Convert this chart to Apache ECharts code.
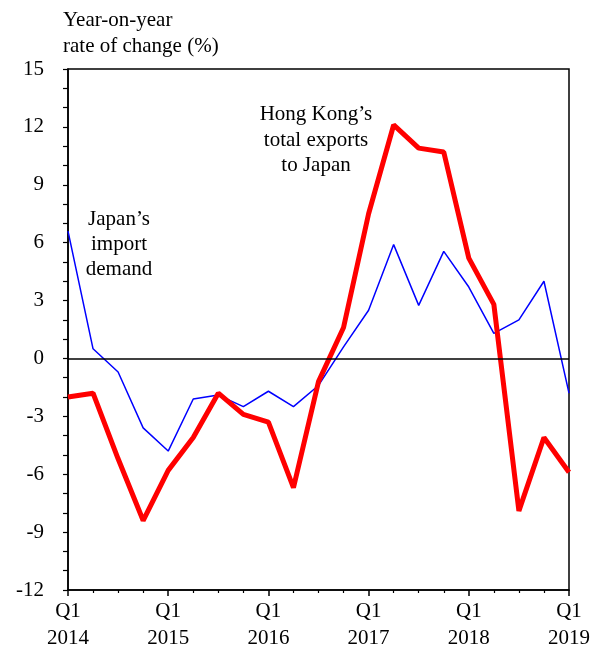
<!DOCTYPE html>
<html>
<head>
<meta charset="utf-8">
<script src="https://cdn.jsdelivr.net/npm/echarts@6/dist/echarts.min.js"></script>
<style>
  html, body { margin: 0; padding: 0; background: #fff; }
  #chart { width: 598px; height: 654px; }
</style>
</head>
<body>
<div id="chart"></div>
<script>
// quarters from Q1 2014 to Q1 2019
var quarters = ['2014Q1','2014Q2','2014Q3','2014Q4','2015Q1','2015Q2','2015Q3','2015Q4',
  '2016Q1','2016Q2','2016Q3','2016Q4','2017Q1','2017Q2','2017Q3','2017Q4',
  '2018Q1','2018Q2','2018Q3','2018Q4','2019Q1'];
// Hong Kong's total exports to Japan (red)
var hkExports = [-2.0, -1.8, -5.2, -8.4, -5.8, -4.1, -1.8, -2.9, -3.3, -6.7, -1.2,
  1.6, 7.5, 12.1, 10.9, 10.7, 5.2, 2.8, -7.9, -4.1, -5.9];
// Japan's import demand (blue)
var jpImports = [6.6, 0.5, -0.7, -3.6, -4.8, -2.1, -1.9, -2.5, -1.7, -2.5, -1.4,
  0.6, 2.5, 5.9, 2.75, 5.55, 3.7, 1.3, 2.0, 4.0, -1.8];
var yearLabels = ['2014', '2015', '2016', '2017', '2018', '2019'];

var font = 'Liberation Serif';

function pairs(arr) {
  return arr.map(function (v, i) { return [i, v]; });
}

var chart = echarts.init(document.getElementById('chart'));
var option = {
  animation: false,
  backgroundColor: '#fff',
  textStyle: { fontFamily: font },
  grid: {
    left: 68, right: 29, top: 69, bottom: 64,
    show: true, borderColor: '#000', borderWidth: 1.5
  },
  xAxis: {
    type: 'value',
    min: 0, max: 20, interval: 4,
    axisLine: { onZero: false, lineStyle: { color: '#000', width: 1.5 } },
    axisTick: { show: true, length: 6, lineStyle: { color: '#000', width: 1.5 } },
    minorTick: { show: true, splitNumber: 4, length: 3, lineStyle: { color: '#000', width: 1.2 } },
    splitLine: { show: false },
    axisLabel: {
      color: '#000', fontSize: 21, fontFamily: font, margin: 8, lineHeight: 27,
      formatter: function (v) { return 'Q1\n' + yearLabels[v / 4]; }
    }
  },
  yAxis: {
    type: 'value',
    min: -12, max: 15, interval: 3,
    axisLine: { show: true, lineStyle: { color: '#000', width: 1.5 } },
    axisTick: { show: true, length: 5, lineStyle: { color: '#000', width: 1.2 } },
    minorTick: { show: true, splitNumber: 3, length: 5, lineStyle: { color: '#000', width: 1.2 } },
    splitLine: { show: false },
    axisLabel: { color: '#000', fontSize: 21, fontFamily: font, margin: 24 }
  },
  graphic: [
    { type: 'text', left: 63, top: 7, style: { text: 'Year-on-year\nrate of change (%)', font: '21px ' + font, fill: '#000', lineHeight: 26 } },
    { type: 'text', x: 316, y: 102, style: { text: 'Hong Kong\u2019s\ntotal exports\nto Japan', font: '21px ' + font, fill: '#000', align: 'center', lineHeight: 25.5 } },
    { type: 'text', x: 119, y: 207, style: { text: 'Japan\u2019s\nimport\ndemand', font: '21px ' + font, fill: '#000', align: 'center', lineHeight: 25 } }
  ],
  series: [
    {
      name: 'Japan\u2019s import demand',
      type: 'line',
      data: pairs(jpImports),
      symbol: 'none',
      lineStyle: { color: '#0000ff', width: 1.5 },
      markLine: {
        silent: true, symbol: 'none', label: { show: false },
        lineStyle: { color: '#000', width: 1.5, type: 'solid' },
        data: [{ yAxis: 0 }]
      },
      z: 2
    },
    {
      name: 'Hong Kong\u2019s total exports to Japan',
      type: 'line',
      data: pairs(hkExports),
      symbol: 'none',
      lineStyle: { color: '#ff0000', width: 5 },
      z: 3
    }
  ]
};
chart.setOption(option);
</script>
</body>
</html>
